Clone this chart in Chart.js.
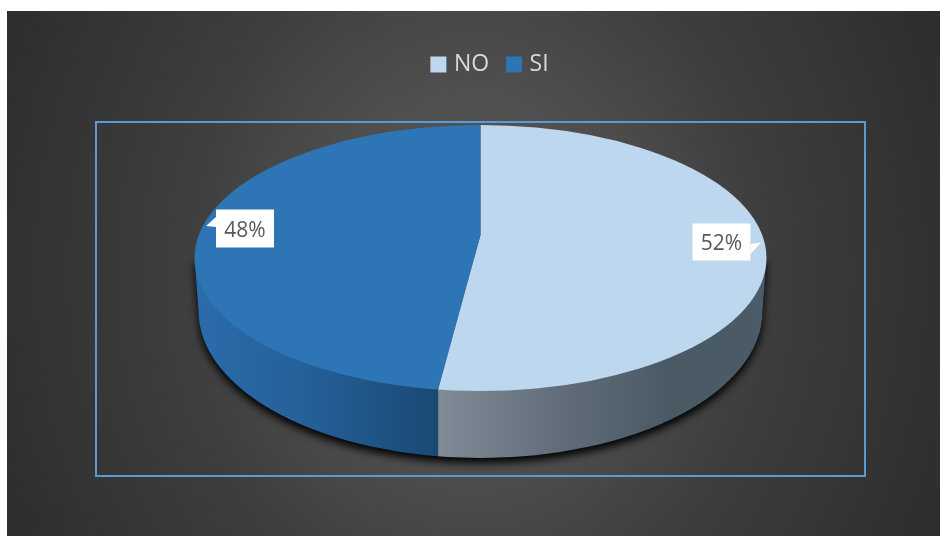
<!DOCTYPE html>
<html>
<head>
<meta charset="utf-8">
<title>NO / SI</title>
<script src="https://cdn.jsdelivr.net/npm/chart.js@4/dist/chart.umd.min.js"></script>
<style>
  html, body { margin: 0; padding: 0; background: #fff; }
  canvas { display: block; }
</style>
</head>
<body>
<canvas id="js-chartjs-pie" width="940" height="536"></canvas>
<script>
// Chart data
const categories = ['NO', 'SI'];
const seriesValues = [52, 48];
const sliceColors = ['#BDD7EE', '#2E75B6'];

// Disc geometry in canvas pixels: top face, apex of the wedges, lower rim
const topFace = { x: 480.5, y: 258, rx: 286, ry: 133 };
const apex = { x: 480.5, y: 235 };
const lowerRim = { x: 480.5, y: 311, rx: 282, ry: 147 };
const stretch = 2.17; // horizontal over vertical scale of the disc
const frame = { left: 96, top: 122, right: 865, bottom: 476 };

// Callouts, one per slice
const callouts = [
  { box: [692.5, 223.5, 58, 37], tail: [[750.5, 244], [761, 242.5], [750.5, 254]] },
  { box: [216, 209.5, 58, 38], tail: [[216, 217], [206, 226], [216, 227]] }
];

// Where a wedge boundary meets the rim of the top face
function rimPoint(angle, sx, sy) {
  const dx = Math.cos(angle) * sx / topFace.rx;
  const dy = Math.sin(angle) * sy / topFace.ry;
  const ox = (apex.x - topFace.x) / topFace.rx;
  const oy = (apex.y - topFace.y) / topFace.ry;
  const a = dx * dx + dy * dy;
  const b = 2 * (ox * dx + oy * dy);
  const c = ox * ox + oy * oy - 1;
  const t = (-b + Math.sqrt(b * b - 4 * a * c)) / (2 * a);
  return { x: apex.x + t * Math.cos(angle) * sx, y: apex.y + t * Math.sin(angle) * sy };
}

function wallPath(ctx) {
  ctx.beginPath();
  ctx.moveTo(topFace.x - topFace.rx, topFace.y);
  ctx.lineTo(lowerRim.x - lowerRim.rx, lowerRim.y);
  ctx.ellipse(lowerRim.x, lowerRim.y, lowerRim.rx, lowerRim.ry, 0, Math.PI, 0, true);
  ctx.lineTo(topFace.x + topFace.rx, topFace.y);
  ctx.closePath();
}

const backdrop = {
  id: 'backdrop',
  beforeDraw(chart) {
    const ctx = chart.ctx;
    ctx.save();
    ctx.fillStyle = '#fff';
    ctx.fillRect(0, 0, chart.width, chart.height);
    ctx.beginPath();
    ctx.rect(7, 11, chart.width - 7, chart.height - 11);
    ctx.clip();
    ctx.translate(472, 273);
    ctx.scale(1, 1.2);
    const glow = ctx.createRadialGradient(0, 0, 0, 0, 0, 560);
    glow.addColorStop(0, '#585858');
    glow.addColorStop(0.26, '#505050');
    glow.addColorStop(0.52, '#3E3E3E');
    glow.addColorStop(0.8, '#323232');
    glow.addColorStop(1, '#2A2A2A');
    ctx.fillStyle = glow;
    ctx.fillRect(-600, -500, 1200, 1000);
    ctx.restore();
  }
};

const disc3d = {
  id: 'disc3d',
  beforeDatasetsDraw(chart) {
    const ctx = chart.ctx;
    const arc = chart.getDatasetMeta(0).data[0];
    const sy = 216 / arc.outerRadius;
    const sx = sy * stretch;
    const seamX = rimPoint(arc.endAngle, sx, sy).x;

    ctx.save();
    ctx.strokeStyle = '#5B9BD5';
    ctx.lineWidth = 2;
    ctx.strokeRect(frame.left, frame.top, frame.right - frame.left, frame.bottom - frame.top);

    // Side wall with its drop shadow
    ctx.save();
    ctx.shadowColor = '#000';
    ctx.shadowBlur = 9;
    ctx.shadowOffsetY = 5;
    ctx.fillStyle = '#111';
    wallPath(ctx);
    ctx.fill();
    ctx.restore();

    const left = ctx.createLinearGradient(195, 0, seamX, 0);
    left.addColorStop(0, '#2B6CAB');
    left.addColorStop(0.45, '#25609A');
    left.addColorStop(1, '#1A4973');
    const right = ctx.createLinearGradient(seamX, 0, 767, 0);
    right.addColorStop(0, '#818C98');
    right.addColorStop(0.35, '#626E7B');
    right.addColorStop(0.7, '#4A5A65');
    right.addColorStop(1, '#4B5B67');

    ctx.save();
    wallPath(ctx);
    ctx.clip();
    ctx.fillStyle = left;
    ctx.fillRect(0, 0, seamX, chart.height);
    ctx.fillStyle = right;
    ctx.fillRect(seamX, 0, chart.width - seamX, chart.height);
    ctx.restore();
    ctx.restore();

    // Slices are drawn by the chart, oversized and cut to the top face
    ctx.save();
    ctx.beginPath();
    ctx.ellipse(topFace.x, topFace.y, topFace.rx, topFace.ry, 0, 0, Math.PI * 2);
    ctx.clip();
    ctx.translate(apex.x, apex.y);
    ctx.scale(sx, sy);
    ctx.translate(-arc.x, -arc.y);
  },
  afterDatasetsDraw(chart) {
    const ctx = chart.ctx;
    ctx.restore();

    ctx.save();
    ctx.font = '21px "Open Sans"';
    ctx.textAlign = 'center';
    ctx.textBaseline = 'middle';
    callouts.forEach((c, i) => {
      const [x, y, w, h] = c.box;
      ctx.fillStyle = '#fff';
      ctx.fillRect(x, y, w, h);
      ctx.beginPath();
      c.tail.forEach((p, j) => (j ? ctx.lineTo(p[0], p[1]) : ctx.moveTo(p[0], p[1])));
      ctx.closePath();
      ctx.fill();
      ctx.fillStyle = '#595959';
      ctx.fillText(seriesValues[i] + '%', x + w / 2, y + h / 2 + 2.5);
    });
    ctx.restore();
  }
};

new Chart(document.getElementById('js-chartjs-pie'), {
  type: 'pie',
  data: {
    labels: categories,
    datasets: [{ data: seriesValues, backgroundColor: sliceColors, borderWidth: 0, clip: false }]
  },
  options: {
    responsive: false,
    animation: false,
    layout: { padding: { left: 43, top: 32, right: 0, bottom: 20 } },
    plugins: {
      tooltip: { enabled: false },
      legend: {
        position: 'top',
        labels: {
          color: '#D9D9D9',
          font: { family: '"Open Sans"', size: 23 },
          padding: 21,
          boxWidth: 8,
          boxHeight: 8,
          // a heavy outline carries the swatch so the label can sit closer to it
          generateLabels: () => categories.map((text, i) => ({
            text,
            fillStyle: sliceColors[i],
            strokeStyle: sliceColors[i],
            lineWidth: 8,
            fontColor: '#D9D9D9',
            index: i
          }))
        }
      }
    }
  },
  plugins: [backdrop, disc3d]
});
</script>
</body>
</html>
